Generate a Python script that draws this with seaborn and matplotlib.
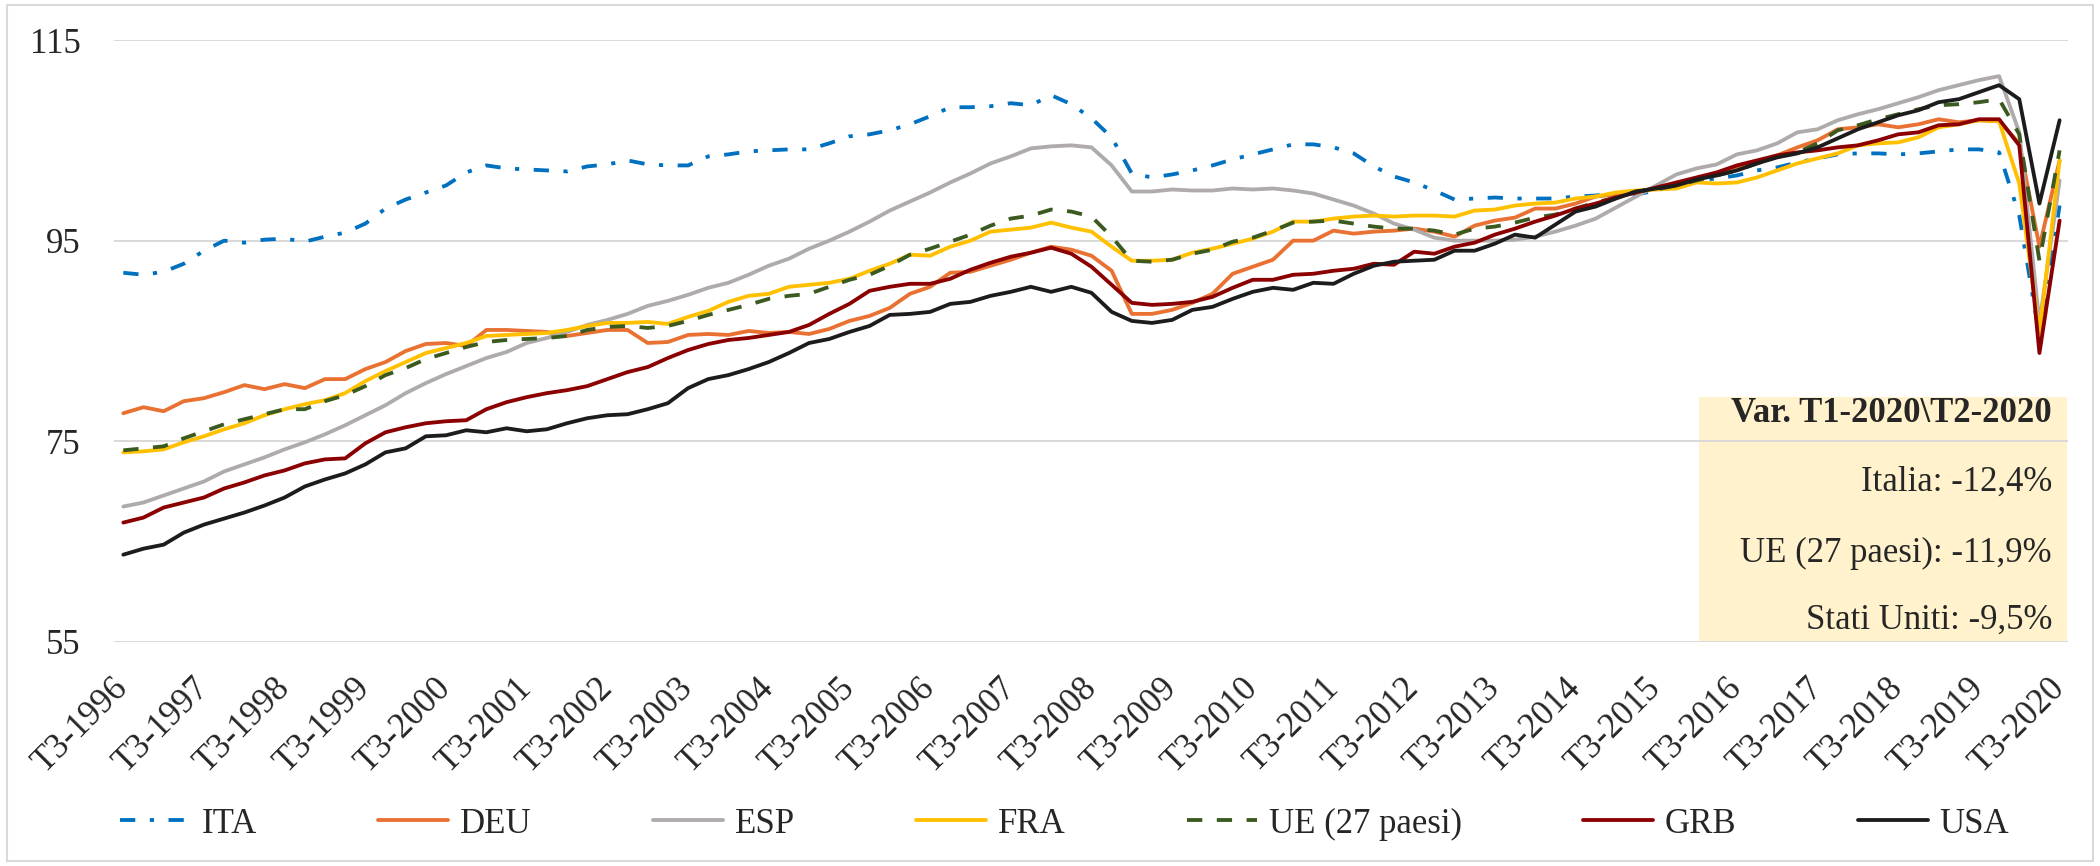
import matplotlib
matplotlib.use("Agg")
import matplotlib.pyplot as plt
from matplotlib.patches import Rectangle
import pandas as pd
import seaborn as sns

# PIL trimestrale, indice (2015 = 100), T3-1996 .. T3-2020
ita = [91.8, 91.6, 91.9, 92.7, 94.0, 95.0, 94.8, 95.1, 95.2, 94.9, 95.4, 95.8, 96.7, 98.2,
       99.1, 99.8, 100.5, 101.8, 102.5, 102.2, 102.1, 102.0, 101.9, 102.4, 102.6, 103.0, 102.6, 102.5,
       102.5, 103.4, 103.6, 103.9, 104.0, 104.1, 104.1, 104.7, 105.4, 105.6, 106.0, 106.6, 107.4, 108.3,
       108.3, 108.4, 108.7, 108.5, 109.5, 108.6, 107.2, 105.3, 101.7, 101.3, 101.6, 102.0, 102.5, 103.1,
       103.6, 104.1, 104.6, 104.6, 104.3, 103.7, 102.4, 101.4, 100.8, 100.0, 99.1, 99.2, 99.3, 99.2,
       99.2, 99.2, 99.4, 99.5, 99.7, 99.6, 100.0, 100.5, 101.0, 101.2, 101.5, 102.0, 102.3, 102.8,
       103.2, 103.6, 103.7, 103.7, 103.6, 103.7, 103.9, 104.1, 104.1, 103.8, 97.5, 85.5, 98.5]
deu = [77.8, 78.4, 78.0, 79.0, 79.3, 79.9, 80.6, 80.2, 80.7, 80.3, 81.2, 81.2, 82.2, 82.9,
       84.0, 84.7, 84.8, 84.5, 86.1, 86.1, 86.0, 85.9, 85.5, 85.8, 86.1, 86.1, 84.8, 84.9,
       85.6, 85.7, 85.6, 86.0, 85.8, 85.9, 85.7, 86.2, 87.0, 87.5, 88.3, 89.7, 90.4, 91.8,
       91.9, 92.5, 93.1, 93.8, 94.4, 94.1, 93.5, 92.0, 87.7, 87.7, 88.1, 88.8, 89.7, 91.7,
       92.4, 93.1, 95.0, 95.0, 96.0, 95.7, 95.9, 96.0, 96.2, 95.9, 95.4, 96.5, 97.0, 97.3,
       98.2, 98.2, 98.7, 99.4, 99.6, 99.8, 100.2, 100.6, 101.2, 101.7, 102.2, 102.8, 103.5, 104.3,
       105.0, 106.1, 106.3, 106.6, 106.3, 106.6, 107.1, 106.8, 107.0, 106.9, 104.7, 94.4, 103.0]
esp = [68.5, 68.9, 69.6, 70.3, 71.0, 72.0, 72.7, 73.4, 74.2, 74.9, 75.7, 76.6, 77.6, 78.6,
       79.8, 80.8, 81.7, 82.5, 83.3, 83.9, 84.8, 85.3, 85.9, 86.6, 87.1, 87.7, 88.5, 89.0,
       89.6, 90.3, 90.8, 91.6, 92.5, 93.2, 94.2, 95.0, 95.9, 96.9, 98.0, 98.9, 99.8, 100.8,
       101.7, 102.7, 103.4, 104.2, 104.4, 104.5, 104.3, 102.5, 99.9, 99.9, 100.1, 100.0, 100.0, 100.2,
       100.1, 100.2, 100.0, 99.7, 99.1, 98.5, 97.7, 96.7, 96.1, 95.3, 95.0, 95.0, 95.0, 95.1,
       95.4, 95.9, 96.5, 97.2, 98.3, 99.4, 100.5, 101.6, 102.2, 102.6, 103.6, 104.0, 104.7, 105.8,
       106.1, 107.0, 107.6, 108.1, 108.7, 109.3, 110.0, 110.5, 111.0, 111.4, 105.8, 86.8, 101.0]
fra = [73.9, 74.0, 74.2, 74.9, 75.5, 76.2, 76.8, 77.6, 78.2, 78.7, 79.1, 79.8, 81.0, 82.0,
       82.9, 83.8, 84.3, 84.8, 85.5, 85.6, 85.7, 85.8, 86.1, 86.5, 86.8, 86.8, 86.9, 86.7,
       87.4, 88.0, 88.9, 89.5, 89.7, 90.4, 90.6, 90.8, 91.2, 92.0, 92.7, 93.6, 93.5, 94.4,
       95.0, 95.9, 96.1, 96.3, 96.8, 96.3, 95.9, 94.4, 93.0, 93.0, 93.1, 93.8, 94.2, 94.7,
       95.2, 95.9, 96.9, 96.9, 97.2, 97.4, 97.5, 97.4, 97.5, 97.5, 97.4, 98.0, 98.1, 98.5,
       98.7, 98.8, 99.2, 99.4, 99.8, 100.0, 100.1, 100.2, 100.8, 100.7, 100.8, 101.3, 102.0, 102.7,
       103.2, 103.7, 104.5, 104.7, 104.8, 105.3, 106.3, 106.6, 107.0, 106.9, 100.7, 85.8, 103.0]
ue27 = [74.1, 74.3, 74.5, 75.3, 76.0, 76.7, 77.2, 77.7, 78.2, 78.2, 79.0, 79.6, 80.5, 81.6,
        82.3, 83.2, 83.8, 84.4, 84.9, 85.1, 85.2, 85.3, 85.5, 86.1, 86.4, 86.5, 86.3, 86.5,
        87.0, 87.6, 88.1, 88.6, 89.2, 89.5, 89.7, 90.4, 91.1, 91.6, 92.5, 93.6, 94.2, 94.9,
        95.6, 96.5, 97.2, 97.5, 98.1, 97.9, 97.4, 95.4, 93.0, 92.9, 93.1, 93.7, 94.1, 94.9,
        95.3, 96.0, 96.8, 96.9, 97.0, 96.7, 96.4, 96.2, 96.2, 96.0, 95.6, 96.2, 96.4, 96.8,
        97.3, 97.6, 98.2, 98.8, 99.3, 99.9, 100.1, 100.5, 101.0, 101.5, 102.0, 102.7, 103.4, 103.8,
        104.7, 106.0, 106.5, 107.1, 107.6, 108.1, 108.5, 108.6, 108.8, 109.1, 105.6, 93.0, 104.0]
grb = [66.9, 67.4, 68.4, 68.9, 69.4, 70.3, 70.9, 71.6, 72.1, 72.8, 73.2, 73.3, 74.8, 75.9,
       76.4, 76.8, 77.0, 77.1, 78.2, 78.9, 79.4, 79.8, 80.1, 80.5, 81.2, 81.9, 82.4, 83.3,
       84.1, 84.7, 85.1, 85.3, 85.6, 85.9, 86.6, 87.7, 88.7, 90.0, 90.4, 90.7, 90.7, 91.2,
       92.1, 92.8, 93.4, 93.8, 94.3, 93.7, 92.4, 90.6, 88.8, 88.6, 88.7, 88.9, 89.4, 90.3,
       91.1, 91.1, 91.6, 91.7, 92.0, 92.2, 92.7, 92.6, 93.9, 93.7, 94.4, 94.8, 95.6, 96.2,
       96.9, 97.5, 98.2, 98.7, 99.3, 99.8, 100.3, 100.8, 101.3, 101.8, 102.5, 103.0, 103.5, 103.8,
       104.0, 104.3, 104.5, 105.0, 105.6, 105.8, 106.5, 106.6, 107.1, 107.1, 104.5, 83.8, 97.0]
usa = [63.7, 64.3, 64.7, 65.9, 66.7, 67.3, 67.9, 68.6, 69.4, 70.5, 71.2, 71.8, 72.7, 73.9,
       74.3, 75.5, 75.6, 76.1, 75.9, 76.3, 76.0, 76.2, 76.8, 77.3, 77.6, 77.7, 78.2, 78.8,
       80.3, 81.2, 81.6, 82.2, 82.9, 83.8, 84.8, 85.2, 85.9, 86.5, 87.6, 87.7, 87.9, 88.7,
       88.9, 89.5, 89.9, 90.4, 89.9, 90.4, 89.8, 87.9, 87.0, 86.8, 87.1, 88.1, 88.4, 89.2,
       89.9, 90.3, 90.1, 90.8, 90.7, 91.7, 92.5, 92.9, 93.0, 93.1, 94.0, 94.0, 94.7, 95.6,
       95.3, 96.6, 97.9, 98.4, 99.2, 99.9, 100.2, 100.5, 101.1, 101.5, 102.0, 102.7, 103.3, 103.7,
       104.3, 105.2, 106.1, 106.8, 107.5, 108.0, 108.8, 109.1, 109.8, 110.5, 109.1, 98.7, 107.0]

series = ["ITA", "DEU", "ESP", "FRA", "UE (27 paesi)", "GRB", "USA"]
tick_labels = ["T3-1996", "T3-1997", "T3-1998", "T3-1999", "T3-2000", "T3-2001", "T3-2002",
               "T3-2003", "T3-2004", "T3-2005", "T3-2006", "T3-2007", "T3-2008", "T3-2009",
               "T3-2010", "T3-2011", "T3-2012", "T3-2013", "T3-2014", "T3-2015", "T3-2016",
               "T3-2017", "T3-2018", "T3-2019", "T3-2020"]
y_ticks = [55, 75, 95, 115]
box_title = "Var. T1-2020\\T2-2020"
box_lines = ["Italia: -12,4%", "UE (27 paesi): -11,9%", "Stati Uniti: -9,5%"]

colors = {"ITA": "#0070C0", "DEU": "#E97132", "ESP": "#AFABAB", "FRA": "#FFC000",
          "UE (27 paesi)": "#3A5A20", "GRB": "#8B0000", "USA": "#1C1C1C"}
dashes = {"ITA": (4.0, 3.8, 1.1, 3.8), "UE (27 paesi)": (4.0, 3.8)}

df = pd.DataFrame({"q": range(len(ita)), "ITA": ita, "DEU": deu, "ESP": esp, "FRA": fra,
                   "UE (27 paesi)": ue27, "GRB": grb, "USA": usa})
long = df.melt(id_vars="q", var_name="paese", value_name="val")

sns.set_style("white")
plt.rcParams["font.family"] = ["Liberation Serif", "DejaVu Serif"]

fig = plt.figure(figsize=(21, 8.66), dpi=100)
ax = fig.add_axes([0.0543, 0.2587, 0.9305, 0.6951])

for name in series:
    sub = long[long["paese"] == name]
    sns.lineplot(data=sub, x="q", y="val", ax=ax, color=colors[name], lw=2.75, label=name)
    if name in dashes:
        ax.lines[-1].set_dashes(dashes[name])

ax.set_xlim(-0.46, 96.42)
ax.set_ylim(55, 115)
ax.set_yticks(y_ticks)
ax.set_xticks(range(0, 97, 4))
ax.set_xticklabels(tick_labels, rotation=45, ha="right", va="center", rotation_mode="anchor")
ax.tick_params(axis="x", length=0, pad=30, labelsize=25)
ax.tick_params(axis="y", length=0, pad=24, labelsize=25)
ax.set_xlabel("")
ax.set_ylabel("")
ax.yaxis.grid(True, color="#D9D9D9", lw=1.4)
ax.xaxis.grid(False)
ax.set_axisbelow(True)
for s in ax.spines.values():
    s.set_visible(False)

# riquadro con le variazioni
ax.add_patch(Rectangle((0.809, 0.2598), 0.1752, 0.2818, transform=fig.transFigure,
                       facecolor="#FFF2CC", edgecolor="none", zorder=0.4, clip_on=False))
fig.text(2052 / 2100, 1 - 413 / 866, box_title, ha="right", va="center",
         fontsize=25, fontweight="bold")
for txt, ypx in zip(box_lines, [482, 553, 620]):
    fig.text(2052 / 2100, 1 - ypx / 866, txt, ha="right", va="center", fontsize=25)

handles, labels = ax.get_legend_handles_labels()
ax.get_legend().remove()
fig.legend(handles, labels, loc="center", bbox_to_anchor=(0.507, 0.0485), ncol=7,
           frameon=False, fontsize=25, handlelength=2.0, handletextpad=0.35, columnspacing=3.5)

fig.add_artist(Rectangle((0.0033, 0.006), 0.9934, 0.988, transform=fig.transFigure,
                         fill=False, edgecolor="#D9D9D9", lw=1.5))

fig.savefig("out.png", dpi=100)
print("out.png saved")
